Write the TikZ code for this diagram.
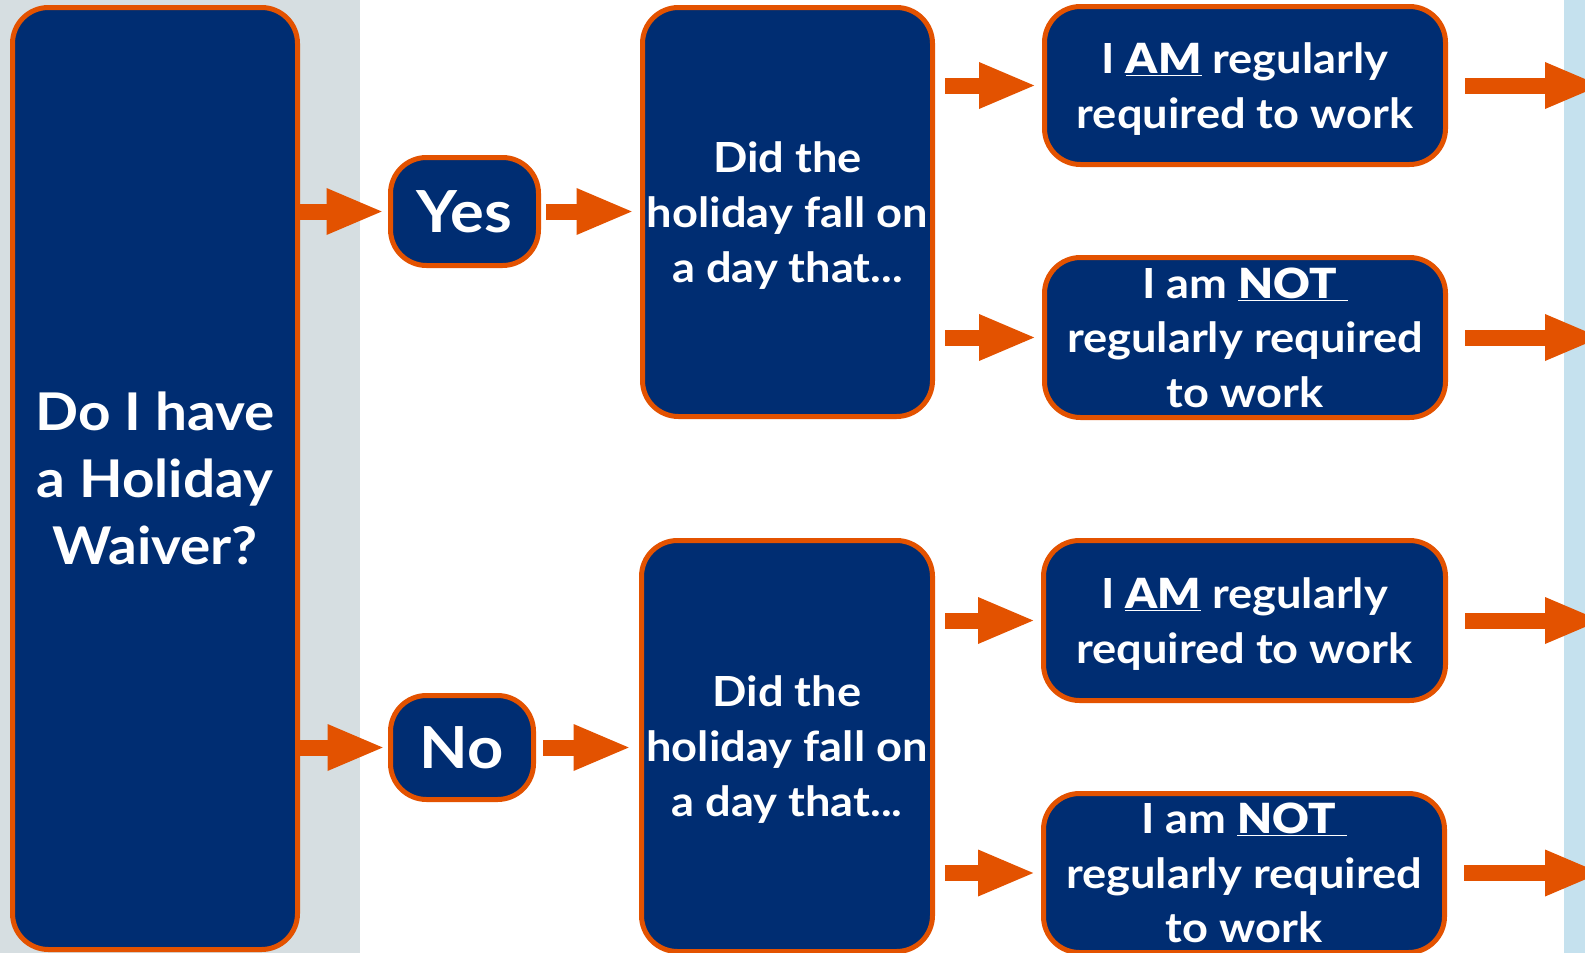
\documentclass[tikz,border=0pt]{standalone}
\usepackage{fontspec}
\setmainfont{Lato}[UprightFont={* Bold},BoldFont={* Black},FakeStretch=1.09]
\usetikzlibrary{arrows.meta,calc}
\definecolor{navy}{RGB}{0,45,114}
\definecolor{flame}{RGB}{227,82,0}
\definecolor{mist}{RGB}{214,222,225}
\definecolor{sky}{RGB}{197,225,238}

\begin{document}
\begin{tikzpicture}[x=1pt,y=-1pt,
  box/.style={draw=flame, line width=5pt, fill=navy, rounded corners=36pt,
    text=white, align=center, inner sep=0pt},
  txt/.style={font=\fontsize{41.5}{54.6}\selectfont, text depth=0pt},
  flow/.style={draw=flame, line width=16pt,
    -{Triangle[length=58pt,width=42pt]}},
]
\useasboundingbox (0,0) rectangle (1585,953);
\fill[white] (0,0) rectangle (1585,953);
\fill[mist] (0,0) rectangle (360,953);
\fill[sky] (1564,0) rectangle (1585,953);

% question column
\node[box, minimum width=285pt, minimum height=942pt,
  font=\fontsize{52}{67}\selectfont] (big) at (155,478.5)
  {Do I have\\a Holiday\\Waiver?};

% answers
\node[box, minimum width=148pt, minimum height=108pt,
  font=\fontsize{58}{60}\selectfont] (yes) at (464.5,211.5) {Yes};
\node[box, minimum width=143pt, minimum height=104pt,
  font=\fontsize{58}{60}\selectfont] (no) at (462,747.5) {No};

% follow-up questions
\node[box, txt, minimum width=290pt, minimum height=409pt] (did1) at (787.5,212)
  {Did the\\holiday fall on\\a day that...};
\node[box, txt, minimum width=291pt, minimum height=411pt] (did2) at (787,746)
  {Did the\\holiday fall on\\a day that...};

% outcomes
\node[box, txt, minimum width=401pt, minimum height=158pt] (r1) at (1245,85.5)
  {I \underline{\textbf{AM}} regularly\\required to work};
\node[box, txt, minimum width=401pt, minimum height=160pt] (r2) at (1245,337.5)
  {I am \underline{\textbf{NOT}\ }\\regularly required\\to work};
\node[box, txt, minimum width=402pt, minimum height=160pt] (r3) at (1244.5,620.5)
  {I \underline{\textbf{AM}} regularly\\required to work};
\node[box, txt, minimum width=401pt, minimum height=159pt] (r4) at (1244,873)
  {I am \underline{\textbf{NOT}\ }\\regularly required\\to work};

\coordinate (edge) at (1603,0);

% connectors
\draw[flow, shorten >=3.5pt] (big.east |- yes.west) -- (yes.west);
\draw[flow, shorten >=2.5pt] (big.east |- no.west) -- (no.west);
\draw[flow, shorten <=5pt, shorten >=5.5pt] (yes.east) -- (did1.west |- yes.east);
\draw[flow, shorten <=7pt, shorten >=7.5pt] (no.east) -- (did2.west |- no.east);
\foreach \d/\r in {did1/r1, did1/r2, did2/r3, did2/r4}
  \draw[flow, shorten <=10pt, shorten >=5pt] (\d.east |- \r.west) -- (\r.west);
\foreach \r in {r1,r2,r3,r4}
  \draw[flow, shorten <=17pt] (\r.east) -- (\r.east -| edge);
\end{tikzpicture}
\end{document}
